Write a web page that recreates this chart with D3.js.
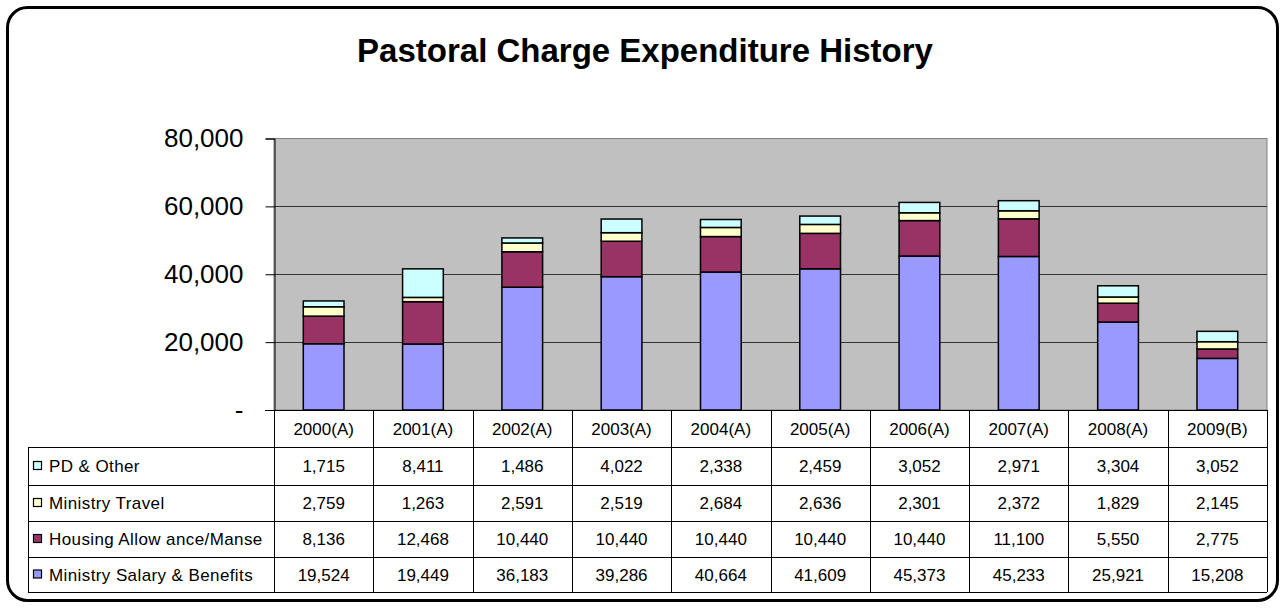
<!DOCTYPE html>
<html>
<head>
<meta charset="utf-8">
<script src="https://cdn.jsdelivr.net/npm/d3@7"></script>
<style>
  body { margin: 0; background: #fff; }
  svg { display: block; font-family: "Liberation Sans", Arial, sans-serif; }
</style>
</head>
<body>
<div id="chart"></div>
<script>
// chart data
const years = ["2000(A)", "2001(A)", "2002(A)", "2003(A)", "2004(A)", "2005(A)", "2006(A)", "2007(A)", "2008(A)", "2009(B)"];
const salary = [19524, 19449, 36183, 39286, 40664, 41609, 45373, 45233, 25921, 15208];
const housing = [8136, 12468, 10440, 10440, 10440, 10440, 10440, 11100, 5550, 2775];
const travel = [2759, 1263, 2591, 2519, 2684, 2636, 2301, 2372, 1829, 2145];
const pdOther = [1715, 8411, 1486, 4022, 2338, 2459, 3052, 2971, 3304, 3052];
const seriesNames = ["Ministry Salary & Benefits", "Housing Allow ance/Manse", "Ministry Travel", "PD & Other"];
const seriesColors = ["#9999FF", "#993366", "#FFFFCC", "#CCFFFF"];
const yTicks = [0, 20000, 40000, 60000, 80000];

const W = 1283, H = 609;
const plot = { left: 274, right: 1267, top: 138.5, bottom: 410 };
const tableLeft = 28;
const rowEdges = [410, 447, 485, 521, 557, 592];

const svg = d3.select("#chart").append("svg")
    .attr("width", W)
    .attr("height", H);

// outer rounded frame
svg.append("rect")
    .attr("x", 7.5).attr("y", 7.5)
    .attr("width", 1270).attr("height", 593)
    .attr("rx", 20).attr("ry", 20)
    .attr("fill", "#fff")
    .attr("stroke", "#000")
    .attr("stroke-width", 3);

svg.append("text")
    .attr("x", 645)
    .attr("y", 62)
    .attr("text-anchor", "middle")
    .style("font-size", "33px")
    .style("font-weight", "bold")
    .text("Pastoral Charge Expenditure History");

// build stacked rows
const keys = ["salary", "housing", "travel", "pd"];
const rows = years.map((yr, i) => ({
    year: yr, salary: salary[i], housing: housing[i], travel: travel[i], pd: pdOther[i]
}));
const layers = d3.stack().keys(keys)(rows);

const x = d3.scaleBand()
    .domain(years)
    .range([plot.left, plot.right])
    .paddingInner(0.59)
    .paddingOuter(0.295);

const y = d3.scaleLinear()
    .domain([0, 80000])
    .range([plot.bottom, plot.top]);

// plot background
svg.append("rect")
    .attr("x", plot.left).attr("y", plot.top)
    .attr("width", plot.right - plot.left)
    .attr("height", plot.bottom - plot.top)
    .attr("fill", "#C0C0C0")
    .attr("stroke", "#808080")
    .attr("stroke-width", 1);

// gridlines
svg.append("g")
    .selectAll("line")
    .data(yTicks.filter(d => d > 0 && d < 80000))
    .enter().append("line")
    .attr("x1", plot.left).attr("x2", plot.right)
    .attr("y1", d => Math.round(y(d)) + 0.5)
    .attr("y2", d => Math.round(y(d)) + 0.5)
    .attr("stroke", "#333")
    .attr("stroke-width", 1);

// bars
const color = d3.scaleOrdinal().domain(keys).range(seriesColors);
svg.append("g")
    .selectAll("g")
    .data(layers)
    .enter().append("g")
    .attr("fill", d => color(d.key))
    .selectAll("rect")
    .data(d => d)
    .enter().append("rect")
    .attr("x", d => x(d.data.year))
    .attr("y", d => y(d[1]))
    .attr("width", x.bandwidth())
    .attr("height", d => y(d[0]) - y(d[1]))
    .attr("stroke", "#000")
    .attr("stroke-width", 1.5);

// y axis
const yAxis = d3.axisLeft(y)
    .tickValues(yTicks)
    .tickSize(9)
    .tickPadding(22)
    .tickFormat(d => d === 0 ? "-" : d3.format(",")(d));

const yg = svg.append("g")
    .attr("transform", `translate(${plot.left + 0.5},0)`)
    .call(yAxis);
yg.select(".domain").attr("stroke", "#000");
yg.selectAll(".tick line").attr("stroke", "#000");
yg.selectAll(".tick text")
    .attr("fill", "#000")
    .style("font-size", "26px")
    .style("font-family", "'Liberation Sans', Arial, sans-serif");

// data table
const table = svg.append("g");
const colEdges = years.map(d => x(d) - x.step() * x.paddingOuter()).concat([plot.right]);

// horizontal lines
table.append("line")
    .attr("x1", 265).attr("x2", plot.right)
    .attr("y1", rowEdges[0] + 0.5).attr("y2", rowEdges[0] + 0.5)
    .attr("stroke", "#000");
table.selectAll("line.h")
    .data(rowEdges.slice(1))
    .enter().append("line")
    .attr("class", "h")
    .attr("x1", tableLeft).attr("x2", plot.right)
    .attr("y1", d => d + 0.5).attr("y2", d => d + 0.5)
    .attr("stroke", "#000");

// vertical lines
table.selectAll("line.v")
    .data(colEdges)
    .enter().append("line")
    .attr("class", "v")
    .attr("x1", d => Math.round(d) + 0.5).attr("x2", d => Math.round(d) + 0.5)
    .attr("y1", rowEdges[0]).attr("y2", rowEdges[5])
    .attr("stroke", "#000");
table.append("line")
    .attr("x1", tableLeft + 0.5).attr("x2", tableLeft + 0.5)
    .attr("y1", rowEdges[1]).attr("y2", rowEdges[5])
    .attr("stroke", "#000");

// header labels
table.selectAll("text.hdr")
    .data(years)
    .enter().append("text")
    .attr("class", "hdr")
    .attr("x", d => x(d) + x.bandwidth() / 2)
    .attr("y", (rowEdges[0] + rowEdges[1]) / 2 + 6)
    .attr("text-anchor", "middle")
    .style("font-size", "17px")
    .text(d => d);

// series rows, top row is last series
const tableSeries = [pdOther, travel, housing, salary];
const tableNames = [seriesNames[3], seriesNames[2], seriesNames[1], seriesNames[0]];
const tableColors = [seriesColors[3], seriesColors[2], seriesColors[1], seriesColors[0]];

tableSeries.forEach((vals, r) => {
    const cy = (rowEdges[r + 1] + rowEdges[r + 2]) / 2;
    table.append("rect")
        .attr("x", 33.5).attr("y", cy - 4.5)
        .attr("width", 8).attr("height", 8)
        .attr("fill", tableColors[r])
        .attr("stroke", "#000")
        .attr("stroke-width", 1.2);
    table.append("text")
        .attr("x", 49)
        .attr("y", cy + 6)
        .style("font-size", "17px")
        .style("letter-spacing", "0.4px")
        .text(tableNames[r]);
    table.selectAll(null)
        .data(vals)
        .enter().append("text")
        .attr("x", (d, i) => x(years[i]) + x.bandwidth() / 2)
        .attr("y", cy + 6)
        .attr("text-anchor", "middle")
        .style("font-size", "17px")
        .text(d => d3.format(",")(d));
});
</script>
</body>
</html>
